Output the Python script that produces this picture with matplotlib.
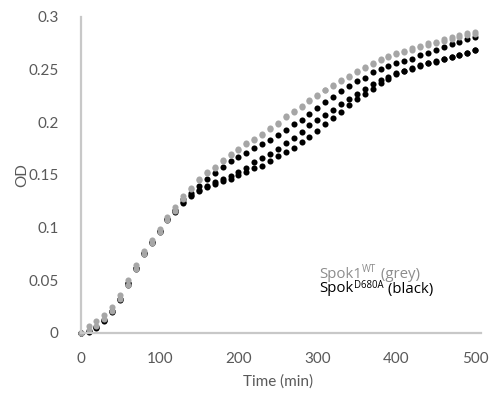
import matplotlib
matplotlib.use("Agg")
import matplotlib.pyplot as plt

time_min = list(range(0, 501, 10))

wt_grey_a = [0, 0.007, 0.011, 0.017, 0.025, 0.036, 0.050, 0.065, 0.078, 0.088, 0.099, 0.110, 0.120, 0.130,
             0.138, 0.146, 0.153, 0.158, 0.164, 0.170, 0.175, 0.180, 0.184, 0.189,
             0.1946, 0.1993, 0.2057, 0.2108, 0.2152, 0.2210, 0.2257, 0.2311, 0.2352, 0.2400,
             0.2438, 0.2486, 0.2527, 0.2559, 0.2597, 0.2629, 0.2654, 0.2679, 0.2702, 0.2724,
             0.2749, 0.2765, 0.2788, 0.2807, 0.2829, 0.2845, 0.2858]
wt_grey_b = [0, 0.003, 0.007, 0.013, 0.021, 0.032, 0.046, 0.061, 0.075, 0.085, 0.096, 0.107, 0.116, 0.127,
             0.137, 0.145, 0.152, 0.157, 0.163, 0.169, 0.174, 0.179, 0.183, 0.188,
             0.1936, 0.1985, 0.2050, 0.2100, 0.2145, 0.2203, 0.2250, 0.2304, 0.2345, 0.2393,
             0.2430, 0.2478, 0.2518, 0.2550, 0.2588, 0.2619, 0.2644, 0.2668, 0.2690, 0.2711,
             0.2735, 0.2750, 0.2772, 0.2790, 0.2812, 0.2828, 0.2836]
mut_upper = [0, 0.002, 0.006, 0.012, 0.021, 0.032, 0.047, 0.062, 0.076, 0.086, 0.097, 0.108, 0.117, 0.127,
             0.133, 0.140, 0.146, 0.152, 0.158, 0.163, 0.167, 0.171, 0.176, 0.179,
             0.1829, 0.1876, 0.1930, 0.1981, 0.2025, 0.2083, 0.2140, 0.2194, 0.2241, 0.2295,
             0.2343, 0.2390, 0.2425, 0.2479, 0.2511, 0.2533, 0.2565, 0.2585, 0.2606, 0.2638,
             0.2660, 0.2686, 0.2711, 0.2740, 0.2765, 0.2788, 0.2812]
mut_middle = [0, 0.002, 0.006, 0.012, 0.021, 0.032, 0.047, 0.062, 0.076, 0.086, 0.097, 0.108, 0.116, 0.124,
              0.131, 0.136, 0.140, 0.143, 0.146, 0.149, 0.153, 0.157, 0.162, 0.166,
              0.170, 0.175, 0.180, 0.185, 0.191, 0.197, 0.202, 0.207, 0.212, 0.217,
              0.222, 0.227, 0.232, 0.236, 0.240, 0.243, 0.2465, 0.249, 0.2515, 0.254,
              0.256, 0.258, 0.260, 0.262, 0.264, 0.266, 0.2685]
mut_lower = [0, 0.001, 0.005, 0.011, 0.020, 0.031, 0.046, 0.061, 0.075, 0.085, 0.096, 0.107, 0.115, 0.123,
             0.130, 0.135, 0.139, 0.141, 0.1445, 0.1465, 0.150, 0.153, 0.157, 0.159,
             0.163, 0.168, 0.172, 0.176, 0.181, 0.186, 0.192, 0.198, 0.204, 0.210,
             0.216, 0.222, 0.227, 0.232, 0.237, 0.2415, 0.2457, 0.2486, 0.2511, 0.2533,
             0.2559, 0.2574, 0.2597, 0.2617, 0.2638, 0.2660, 0.2686]

x_ticks = [0, 100, 200, 300, 400, 500]
y_ticks = [0, 0.05, 0.1, 0.15, 0.2, 0.25, 0.3]
y_tick_labels = ["0", "0.05", "0.1", "0.15", "0.2", "0.25", "0.3"]

legend_parts = [
    (["Spok1", "WT", " (grey)"], '#8C8C8C'),
    (["Spok", "D680A", " (black)"], 'black'),
]

plt.rcParams['font.family'] = ['Lato', 'DejaVu Sans']

W, H = 492, 403
fig = plt.figure(figsize=(W / 100, H / 100), dpi=100)
ax = fig.add_axes([80.7 / W, 1 - 333 / H, 400 / W, 316 / H])

GREY = '#A6A6A6'
ms = 4.4
for s in (mut_lower, mut_middle, mut_upper):
    ax.plot(time_min, s, linestyle='none', marker='o', ms=ms, color='black', mec='none', clip_on=False)
for s in (wt_grey_b, wt_grey_a):
    ax.plot(time_min, s, linestyle='none', marker='o', ms=ms, color=GREY, mec='none', clip_on=False)

ax.set_xlim(0, 507)
ax.set_ylim(0, 0.3)
ax.set_xticks(x_ticks)
ax.set_yticks(y_ticks)
ax.set_yticklabels(y_tick_labels)
for sp in ('top', 'right'):
    ax.spines[sp].set_visible(False)
for sp in ('left', 'bottom'):
    ax.spines[sp].set_color('#C8C8C8')
    ax.spines[sp].set_linewidth(1.6)
ax.tick_params(length=0, colors='#595959', labelsize=11)
ax.tick_params(axis='y', pad=16)
ax.tick_params(axis='x', pad=14)

fig.text(278 / W, 1 - 382 / H, 'Time (min)', ha='center', va='center', fontsize=11, color='#595959')
fig.text(22 / W, 1 - 175 / H, 'OD', ha='center', va='center', rotation=90, fontsize=11, color='#595959')

# legend-like text with small superscripts
renderer = fig.canvas.get_renderer()
x0 = 319.0
LF = ['Open Sans', 'DejaVu Sans']
for (parts, col), base in zip(legend_parts, (277.5, 292.5)):
    x = x0
    for i, part in enumerate(parts):
        if i == 1:
            t = fig.text(x / W, 1 - (base - 5.0) / H, part, ha='left', va='baseline',
                         fontsize=6.9, color=col, family=LF)
        else:
            t = fig.text(x / W, 1 - base / H, part, ha='left', va='baseline',
                         fontsize=10.8, color=col, family=LF)
        bb = t.get_window_extent(renderer)
        x = x + bb.width + 0.5

fig.savefig('out.png', dpi=100)
